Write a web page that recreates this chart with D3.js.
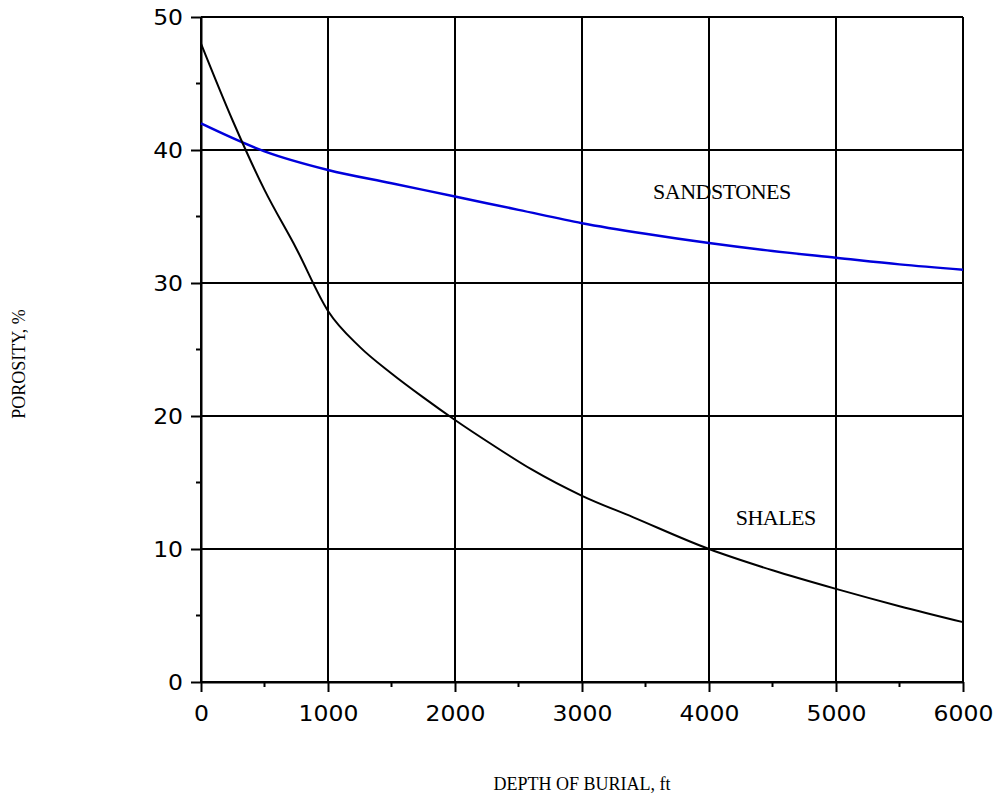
<!DOCTYPE html>
<html>
<head>
<meta charset="utf-8">
<script src="https://cdn.jsdelivr.net/npm/d3@7"></script>
<style>
  body { margin: 0; background: #fff; }
  .tick-label { font-family: 'DejaVu Sans', sans-serif; font-size: 21px; fill: #000; }
  .title { font-family: 'Liberation Serif', 'Times New Roman', serif; fill: #000; }
</style>
</head>
<body>
<div id="wrapper"></div>
<script>
// porosity vs depth
const depths = [0, 250, 500, 750, 1000, 1250, 1500, 1750, 2000, 2300, 2600, 3000, 3400, 4000, 4500, 5000, 5500, 6000];
const shales = [48, 42.2, 37, 32.6, 27.9, 25.2, 23.2, 21.4, 19.7, 17.8, 16.0, 14.0, 12.4, 10.0, 8.4, 7.0, 5.7, 4.5];

const sandDepths = [0, 500, 1000, 1500, 2000, 2500, 3000, 3500, 4000, 4500, 5000, 5500, 6000];
const sandstones = [42.0, 39.9, 38.5, 37.5, 36.5, 35.5, 34.5, 33.7, 33.0, 32.4, 31.9, 31.4, 31.0];

const xTicks = [0, 1000, 2000, 3000, 4000, 5000, 6000];
const xMinorTicks = [500, 1500, 2500, 3500, 4500, 5500];
const yTicks = [0, 10, 20, 30, 40, 50];
const yMinorTicks = [5, 15, 25, 35, 45];

const seriesLabels = [
  { name: 'SANDSTONES', depth: 3560, value: 36.3 },
  { name: 'SHALES', depth: 4210, value: 11.8 }
];

function drawChart() {
  let dimensions = {
    width: 1000,
    height: 802,
    margins: { top: 17, right: 37, bottom: 120, left: 201 }
  };
  dimensions.boundedWidth = dimensions.width - dimensions.margins.left - dimensions.margins.right;
  dimensions.boundedHeight = dimensions.height - dimensions.margins.top - dimensions.margins.bottom;

  const wrapper = d3.select('#wrapper')
    .append('svg')
      .attr('width', dimensions.width)
      .attr('height', dimensions.height);

  const bounds = wrapper.append('g')
      .attr('transform', `translate(${dimensions.margins.left},${dimensions.margins.top})`);

  const xScale = d3.scaleLinear()
    .domain([0, 6000])
    .range([0, dimensions.boundedWidth]);

  const yScale = d3.scaleLinear()
    .domain([0, 50])
    .range([dimensions.boundedHeight, 0]);

  // grid
  bounds.append('g')
    .selectAll('line')
    .data(xTicks)
    .join('line')
      .attr('x1', d => xScale(d))
      .attr('x2', d => xScale(d))
      .attr('y1', 0)
      .attr('y2', dimensions.boundedHeight)
      .attr('stroke', '#000')
      .attr('stroke-width', 2);

  bounds.append('g')
    .selectAll('line')
    .data(yTicks)
    .join('line')
      .attr('x1', 0)
      .attr('x2', dimensions.boundedWidth)
      .attr('y1', d => yScale(d))
      .attr('y2', d => yScale(d))
      .attr('stroke', '#000')
      .attr('stroke-width', 2);

  // minor ticks
  bounds.append('g')
    .selectAll('line')
    .data(xMinorTicks)
    .join('line')
      .attr('x1', d => xScale(d))
      .attr('x2', d => xScale(d))
      .attr('y1', dimensions.boundedHeight)
      .attr('y2', dimensions.boundedHeight + 5)
      .attr('stroke', '#000')
      .attr('stroke-width', 2);

  bounds.append('g')
    .selectAll('line')
    .data(yMinorTicks)
    .join('line')
      .attr('x1', -5)
      .attr('x2', 0)
      .attr('y1', d => yScale(d))
      .attr('y2', d => yScale(d))
      .attr('stroke', '#000')
      .attr('stroke-width', 2);

  // axes
  const xAxis = bounds.append('g')
      .attr('transform', `translate(0,${dimensions.boundedHeight})`)
      .call(d3.axisBottom(xScale).tickValues(xTicks).tickSize(10).tickSizeOuter(0).tickFormat(d3.format('d')));

  const yAxis = bounds.append('g')
      .call(d3.axisLeft(yScale).tickValues(yTicks).tickSize(10).tickSizeOuter(0));

  [xAxis, yAxis].forEach(axis => {
    axis.select('.domain').attr('stroke', '#000').attr('stroke-width', 2);
    axis.selectAll('.tick line').attr('stroke', '#000').attr('stroke-width', 2);
    axis.selectAll('.tick text')
        .attr('class', 'tick-label')
        .attr('font-family', null)
        .attr('font-size', null);
  });

  xAxis.selectAll('.tick text')
      .attr('y', 39)
      .attr('dy', 0)
      .attr('transform', 'scale(1.12,1)');

  yAxis.selectAll('.tick text')
      .attr('x', -16)
      .attr('dy', '0.36em')
      .attr('transform', 'scale(1.12,1)');

  // curves
  const lineGenerator = d3.line()
      .x(d => xScale(d[0]))
      .y(d => yScale(d[1]))
      .curve(d3.curveMonotoneX);

  bounds.append('path')
      .attr('d', lineGenerator(d3.zip(sandDepths, sandstones)))
      .attr('fill', 'none')
      .attr('stroke', '#0000dc')
      .attr('stroke-width', 2.5);

  bounds.append('path')
      .attr('d', lineGenerator(d3.zip(depths, shales)))
      .attr('fill', 'none')
      .attr('stroke', '#000')
      .attr('stroke-width', 2);

  // series labels
  bounds.append('g')
    .selectAll('text')
    .data(seriesLabels)
    .join('text')
      .attr('class', 'title')
      .attr('x', d => xScale(d.depth))
      .attr('y', d => yScale(d.value))
      .attr('font-size', 22)
      .attr('letter-spacing', -0.5)
      .text(d => d.name);

  // axis titles
  wrapper.append('text')
      .attr('class', 'title')
      .attr('x', dimensions.margins.left + dimensions.boundedWidth / 2)
      .attr('y', 790)
      .attr('text-anchor', 'middle')
      .attr('font-size', 18)
      .text('DEPTH OF BURIAL, ft');

  wrapper.append('text')
      .attr('class', 'title')
      .attr('transform', 'translate(25,364) rotate(-90)')
      .attr('text-anchor', 'middle')
      .attr('font-size', 18)
      .text('POROSITY, %');
}

drawChart();
</script>
</body>
</html>
